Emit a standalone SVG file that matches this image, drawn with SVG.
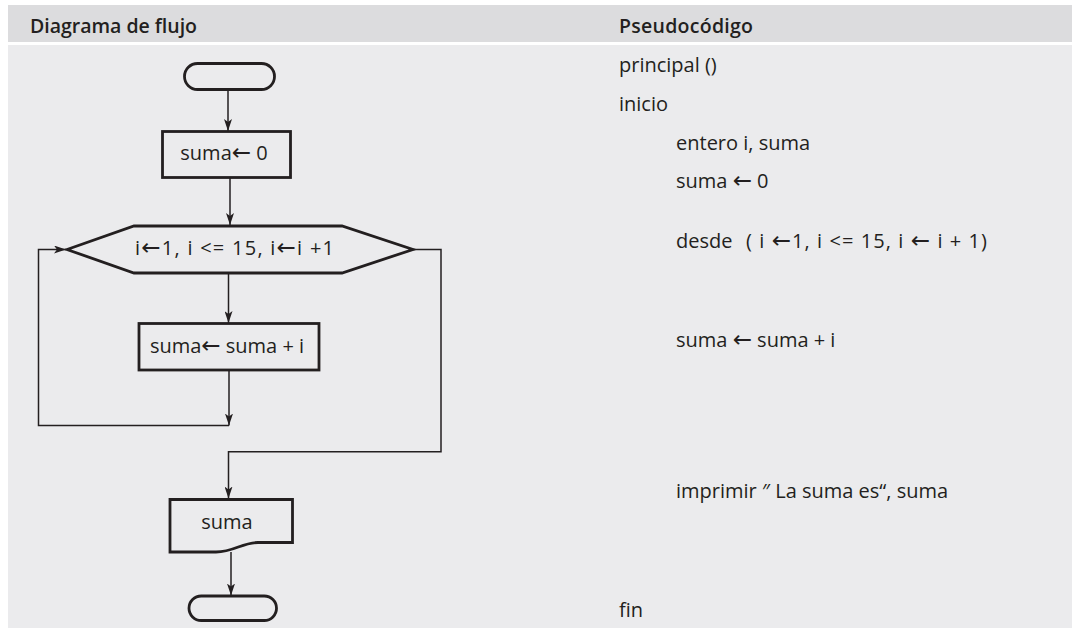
<svg xmlns="http://www.w3.org/2000/svg" width="1072" height="628" viewBox="0 0 1072 628">
  <style>
    .hdr { font-family: "Open Sans", "Liberation Sans", sans-serif; font-weight: 600; font-size: 19.5px; fill: #231f20; }
    .txt { font-family: "Open Sans", "Liberation Sans", "DejaVu Sans", sans-serif; font-size: 20px; fill: #231f20; }
    .ar { font-family: "DejaVu Sans", sans-serif; font-size: 23px; }
    .shape { fill: #ebebed; stroke: #231f20; stroke-width: 2.8; stroke-linejoin: miter; }
    .conn { fill: none; stroke: #231f20; stroke-width: 1.5; }
  </style>
  <defs>
    <marker id="arr" viewBox="0 0 12 8" refX="12" refY="4" markerWidth="12" markerHeight="8" markerUnits="userSpaceOnUse" orient="auto">
      <path d="M0,0 L12,4 L0,8 L3,4 Z" fill="#231f20"/>
    </marker>
  </defs>

  <!-- background -->
  <rect x="0" y="0" width="1072" height="628" fill="#ffffff"/>
  <rect x="8" y="5" width="1064" height="37" fill="#dcdcde"/>
  <rect x="8" y="45" width="1064" height="583" fill="#ebebed"/>

  <!-- headers -->
  <text class="hdr" x="30" y="32.5" textLength="167">Diagrama de flujo</text>
  <text class="hdr" x="619" y="32.5" textLength="134">Pseudocódigo</text>

  <!-- connectors -->
  <g id="connectors">
    <line class="conn" x1="228" y1="89" x2="228" y2="131" marker-end="url(#arr)"/>
    <line class="conn" x1="230" y1="177.5" x2="230" y2="225" marker-end="url(#arr)"/>
    <line class="conn" x1="228.5" y1="273" x2="228.5" y2="323" marker-end="url(#arr)"/>
    <line class="conn" x1="229" y1="370" x2="229" y2="425.5" marker-end="url(#arr)"/>
    <polyline class="conn" points="229,425.5 38.5,425.5 38.5,249.5 66,249.5" marker-end="url(#arr)"/>
    <polyline class="conn" points="413,249.5 441,249.5 441,451.7 228.5,451.7 228.5,498.5" marker-end="url(#arr)"/>
    <line class="conn" x1="231" y1="552" x2="231" y2="595.5" marker-end="url(#arr)"/>
  </g>

  <!-- nodes -->
  <g id="start">
    <rect class="shape" x="184.5" y="63.5" width="90" height="26" rx="13" ry="13"/>
  </g>
  <g id="init">
    <rect class="shape" x="162.5" y="131.5" width="128" height="46"/>
    <text class="txt" x="224" y="159.5" text-anchor="middle">suma<tspan class="ar">←</tspan> 0</text>
  </g>
  <g id="loop">
    <polygon class="shape" points="67,249.5 134,226 342,226 413,249.5 342,273 134,273"/>
    <text class="txt" x="234.5" y="254.5" text-anchor="middle" textLength="199">i<tspan class="ar">←</tspan>1, i &lt;= 15, i<tspan class="ar">←</tspan>i +1</text>
  </g>
  <g id="accumulate">
    <rect class="shape" x="139" y="323.5" width="180" height="46.5"/>
    <text class="txt" x="227" y="353" text-anchor="middle">suma<tspan class="ar">←</tspan> suma + i</text>
  </g>
  <g id="output">
    <path class="shape" d="M170,499.5 H292.5 V542.5 H258 C242,542.5 234,552 216,552 H170 Z"/>
    <text class="txt" x="227" y="528.5" text-anchor="middle">suma</text>
  </g>
  <g id="end">
    <rect class="shape" x="189" y="596" width="87.5" height="24.5" rx="12.25" ry="12.25"/>
  </g>

  <!-- pseudocode -->
  <g id="pseudocode">
    <text class="txt" x="619" y="72">principal ()</text>
    <text class="txt" x="619" y="110.5">inicio</text>
    <text class="txt" x="676" y="149.5">entero i, suma</text>
    <text class="txt" x="676" y="188">suma <tspan class="ar">←</tspan> 0</text>
    <text class="txt" x="676" y="247.5">desde</text>
    <text class="txt" x="746" y="247.5" textLength="241">( i <tspan class="ar">←</tspan>1, i &lt;= 15, i <tspan class="ar">←</tspan> i + 1)</text>
    <text class="txt" x="676" y="347">suma <tspan class="ar">←</tspan> suma + i</text>
    <text class="txt" x="676" y="498">imprimir ″ La suma es“, suma</text>
    <text class="txt" x="619" y="617">fin</text>
  </g>
</svg>
